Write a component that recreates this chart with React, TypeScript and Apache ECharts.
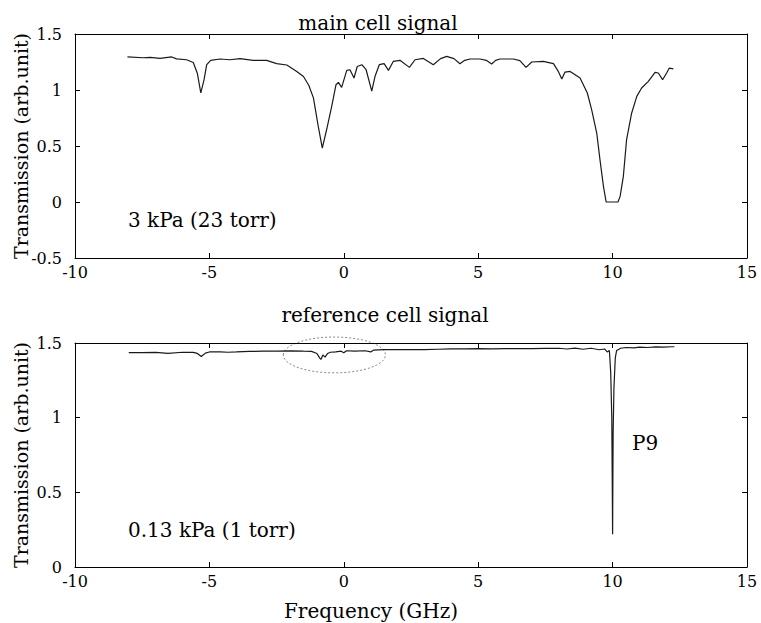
import React, { useEffect, useRef } from "react";
import * as echarts from "echarts";

// Main cell signal (3 kPa)
const mainX = [-8.05, -7.47, -7.2, -6.84, -6.4, -6.22, -5.85, -5.6, -5.45, -5.32, -5.2, -5.1, -4.95, -4.61, -4.23, -3.86, -3.37, -2.87, -2.5, -2.12, -1.75, -1.5, -1.3, -1.13, -0.95, -0.8, -0.64, -0.45, -0.29, -0.2, -0.08, 0.11, 0.23, 0.38, 0.5, 0.67, 0.83, 1.04, 1.16, 1.32, 1.5, 1.66, 1.84, 2.09, 2.44, 2.65, 2.96, 3.33, 3.6, 3.83, 4.1, 4.32, 4.5, 4.7, 5.07, 5.3, 5.5, 5.65, 5.81, 6.31, 6.55, 6.78, 6.99, 7.42, 7.8, 7.98, 8.11, 8.23, 8.42, 8.79, 9.06, 9.22, 9.41, 9.53, 9.66, 9.76, 10.2, 10.28, 10.4, 10.52, 10.71, 10.9, 11.08, 11.33, 11.58, 11.7, 11.86, 12.01, 12.11, 12.26];
const mainY = [1.295, 1.288, 1.292, 1.282, 1.295, 1.278, 1.27, 1.246, 1.15, 0.975, 1.09, 1.226, 1.265, 1.277, 1.27, 1.28, 1.265, 1.265, 1.235, 1.223, 1.166, 1.12, 1.04, 0.93, 0.675, 0.482, 0.645, 0.854, 1.047, 1.068, 1.023, 1.175, 1.181, 1.107, 1.21, 1.226, 1.181, 0.99, 1.12, 1.226, 1.235, 1.175, 1.255, 1.265, 1.202, 1.27, 1.282, 1.226, 1.28, 1.3, 1.28, 1.235, 1.265, 1.277, 1.277, 1.265, 1.232, 1.265, 1.277, 1.277, 1.262, 1.202, 1.25, 1.256, 1.235, 1.166, 1.098, 1.16, 1.166, 1.107, 0.973, 0.824, 0.616, 0.378, 0.14, 0.0, 0.0, 0.05, 0.229, 0.556, 0.795, 0.943, 1.018, 1.077, 1.157, 1.152, 1.092, 1.152, 1.196, 1.188];

// Reference cell signal (0.13 kPa)
const refX = [-8.0, -7.5, -7.0, -6.54, -6.0, -5.6, -5.45, -5.3, -5.15, -5.0, -4.6, -4.3, -4.0, -3.5, -3.0, -2.5, -2.0, -1.5, -1.2, -1.0, -0.9, -0.85, -0.78, -0.7, -0.6, -0.5, -0.3, -0.1, 0.0, 0.1, 0.4, 0.8, 1.0, 1.1, 1.5, 2.0, 2.5, 3.0, 3.5, 4.0, 4.5, 5.0, 5.5, 6.0, 6.5, 7.0, 7.5, 8.0, 8.3, 8.6, 8.9, 9.2, 9.5, 9.7, 9.8, 9.88, 9.93, 9.97, 10.0, 10.02, 10.05, 10.1, 10.15, 10.3, 10.5, 10.8, 11.0, 11.3, 11.6, 11.9, 12.2, 12.3];
const refY = [1.435, 1.435, 1.437, 1.43, 1.438, 1.437, 1.43, 1.41, 1.432, 1.44, 1.441, 1.438, 1.44, 1.444, 1.445, 1.446, 1.447, 1.445, 1.444, 1.43, 1.4, 1.39, 1.42, 1.405, 1.43, 1.438, 1.44, 1.445, 1.435, 1.448, 1.446, 1.448, 1.44, 1.452, 1.455, 1.455, 1.456, 1.455, 1.458, 1.46, 1.46, 1.462, 1.46, 1.462, 1.462, 1.463, 1.464, 1.465, 1.46, 1.466, 1.458, 1.465, 1.455, 1.46, 1.44, 1.45, 1.3, 1.0, 0.22, 0.9, 1.2, 1.4, 1.45, 1.465, 1.47, 1.468, 1.472, 1.47, 1.474, 1.472, 1.475, 1.475];

const xTicks = { min: -10, max: 15, interval: 5 };
const topY = { min: -0.5, max: 1.5, interval: 0.5 };
const botY = { min: 0, max: 1.5, interval: 0.5 };

const FONT = "DejaVu Serif";

export default function App() {
  const ref = useRef<HTMLDivElement>(null);
  useEffect(() => {
    if (!ref.current) return;
    const chart = echarts.init(ref.current, undefined, { renderer: "svg" });
    const axLine = { show: true, onZero: false, lineStyle: { color: "#000", width: 1 } };
    const tick = { show: true, inside: true, length: 5, lineStyle: { color: "#000" } };
    const lbl = { fontFamily: FONT, fontSize: 16, color: "#000" };
    const mkX = (g: number, pos: string, show: boolean) => ({
      gridIndex: g, type: "value", position: pos, ...xTicks,
      axisLine: axLine, axisTick: tick, splitLine: { show: false },
      axisLabel: { show, ...lbl, margin: 6 },
    });
    const mkY = (g: number, r: any, pos: string, show: boolean) => ({
      gridIndex: g, type: "value", position: pos, ...r,
      axisLine: axLine, axisTick: tick, splitLine: { show: false },
      axisLabel: { show, ...lbl, margin: 13 },
      name: show ? "Transmission (arb.unit)" : "",
      nameLocation: "middle", nameGap: 45, nameMoveOverlap: false,
      nameTextStyle: { fontFamily: FONT, fontSize: 19, color: "#000" },
    });
    const textStyle = (t: string, x: number, y: number, align = "left") => ({
      type: "text", x, y,
      style: { text: t, fontFamily: FONT, fontSize: 20, fill: "#000", textAlign: align, textVerticalAlign: "middle" },
    });
    chart.setOption({
      animation: false,
      backgroundColor: "#fff",
      textStyle: { fontFamily: FONT },
      grid: [
        { left: 75, top: 34, width: 672, height: 224, containLabel: false, outerBoundsMode: "none" },
        { left: 75, top: 343, width: 672, height: 224, containLabel: false, outerBoundsMode: "none" },
      ],
      xAxis: [mkX(0, "bottom", true), mkX(0, "top", false), mkX(1, "bottom", true), mkX(1, "top", false)],
      yAxis: [mkY(0, topY, "left", true), mkY(0, topY, "right", false), mkY(1, botY, "left", true), mkY(1, botY, "right", false)],
      series: [
        {
          name: "main cell signal", type: "line", xAxisIndex: 0, yAxisIndex: 0,
          showSymbol: false, symbol: "none",
          data: mainX.map((x, i) => [x, mainY[i]]),
          lineStyle: { color: "#1a1a1a", width: 1.2 },
        },
        {
          name: "reference cell signal", type: "line", xAxisIndex: 2, yAxisIndex: 2,
          showSymbol: false, symbol: "none",
          data: refX.map((x, i) => [x, refY[i]]),
          lineStyle: { color: "#1a1a1a", width: 1.2 },
        },
      ],
    });
    const c = chart.convertToPixel({ xAxisIndex: 2, yAxisIndex: 2 }, [-0.35, 1.42]) as number[];
    const e = chart.convertToPixel({ xAxisIndex: 2, yAxisIndex: 2 }, [1.55, 1.3]) as number[];
    chart.setOption({
      graphic: [
        textStyle("main cell signal", 378, 23, "center"),
        textStyle("reference cell signal", 385, 315, "center"),
        textStyle("Frequency (GHz)", 371, 611, "center"),
        textStyle("3 kPa (23 torr)", 128, 220),
        textStyle("0.13 kPa (1 torr)", 128, 530),
        textStyle("P9", 632, 443),
        {
          type: "ellipse",
          shape: { cx: c[0], cy: c[1], rx: Math.abs(e[0] - c[0]), ry: Math.abs(e[1] - c[1]) },
          style: { fill: "none", stroke: "#888", lineWidth: 1, lineDash: [2, 2] },
        },
      ],
    });
    return () => chart.dispose();
  }, []);
  return <div ref={ref} style={{ position: "fixed", left: 0, top: 0, width: 761, height: 623 }} />;
}
